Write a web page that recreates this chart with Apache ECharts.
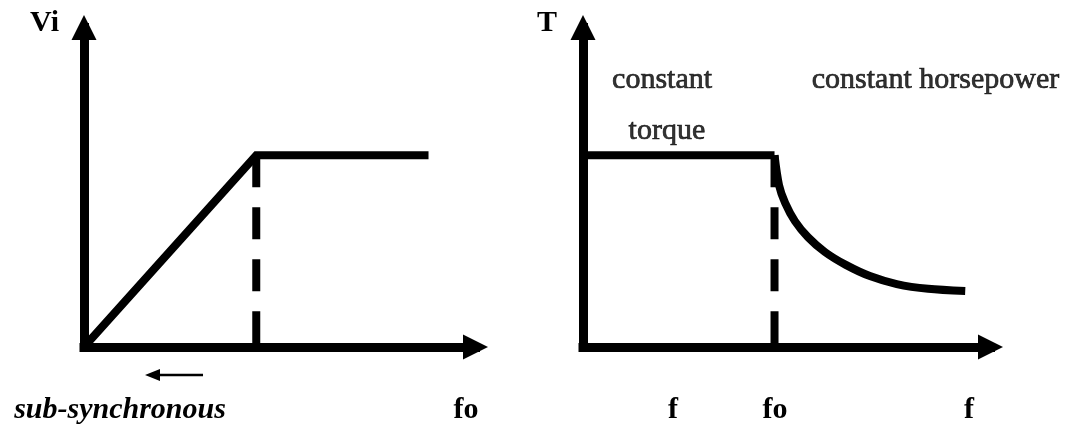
<!DOCTYPE html>
<html><head><meta charset="utf-8">
<script src="https://cdn.jsdelivr.net/npm/echarts@6/dist/echarts.min.js"></script>
<style>html,body{margin:0;padding:0;background:#fff}#c{width:1083px;height:426px}</style>
</head><body><div id="c"></div>
<script>
// ---- Left panel: Vi versus fo ----
const leftFreq = [0, 44, 88];
const leftVolt = [0, 60, 60];
const leftKneeFreq = 44;
const leftKneeVolt = [60, 0];
const leftTickValues = [9.2, 97.6];
const leftTickLabels = ['sub-synchronous', 'fo'];
const leftTickStyles = ['bi', 'b'];
const subSyncArrowFreq = [30.4, 17.5];
const subSyncArrowVolt = [-8.8, -8.8];

// ---- Right panel: T versus f ----
const rightFlatFreq = [0, 47];
const rightFlatTorque = [60, 60];
const rightCurveFreq = [47, 48.1, 49.6, 52.0, 55.2, 59.4, 64.5, 70.4, 77.0, 84.7, 93.8];
const rightCurveTorque = [60, 50.7, 45.1, 39.4, 34.4, 29.7, 25.7, 22.2, 19.7, 18.2, 17.5];
const rightKneeFreq = 47;
const rightKneeTorque = [60, 0];
const rightTickValues = [22.1, 47.1, 94.7];
const rightTickLabels = ['f', 'fo', 'f'];
const rightTickStyles = ['b', 'b', 'b'];
const regionTexts = ['constant', 'torque', 'constant horsepower'];
const regionFreq = [19.4, 20.6, 86.5];
const regionTorque = [83.6, 67.6, 83.6];

const FONT = "'Liberation Serif', 'Times New Roman', serif";
const BLACK = '#000';

function zip(a, b) { return a.map((v, i) => [v, b[i]]); }
function tickFormatter(values, labels, styles) {
  return function (v) {
    let best = 0;
    for (let i = 1; i < values.length; i++) {
      if (Math.abs(values[i] - v) < Math.abs(values[best] - v)) best = i;
    }
    return '{' + styles[best] + '|' + labels[best] + '}';
  };
}
const rich = {
  b: { fontFamily: FONT, fontSize: 30, fontWeight: 'bold', color: BLACK },
  bi: { fontFamily: FONT, fontSize: 30, fontWeight: 'bold', fontStyle: 'italic', color: BLACK }
};
const axisLineStyle = { color: BLACK, width: 9, cap: 'square' };

function xAxisCfg(gridIndex, ticks, labels, styles) {
  return {
    gridIndex, type: 'value', min: 0, max: 100,
    splitLine: { show: false }, axisTick: { show: false },
    axisLine: { show: true, onZero: false, symbol: ['none', 'triangle'], symbolSize: [25, 25], lineStyle: axisLineStyle },
    axisLabel: {
      show: true, customValues: ticks, margin: 48,
      formatter: tickFormatter(ticks, labels, styles), rich,
      fontFamily: FONT, fontSize: 30, color: BLACK
    }
  };
}
function yAxisCfg(gridIndex, name, padRight) {
  return {
    gridIndex, type: 'value', min: 0, max: 100,
    name, nameLocation: 'end', nameGap: 4.6,
    nameTextStyle: { fontFamily: FONT, fontSize: 30, fontWeight: 'bold', color: BLACK,
      align: 'right', verticalAlign: 'middle', padding: [0, padRight, 0, 0] },
    splitLine: { show: false }, axisTick: { show: false }, axisLabel: { show: false },
    axisLine: { show: true, symbol: ['none', 'triangle'], symbolSize: [25, 25], lineStyle: axisLineStyle }
  };
}
const solid = { color: BLACK, width: 8, join: 'miter', cap: 'butt' };
const dashed = { color: BLACK, width: 8, type: [32, 20], cap: 'butt' };

const option = {
  backgroundColor: '#fff',
  animation: false,
  grid: [
    { left: 84, right: 607.5, top: 27.5, bottom: 79 },
    { left: 583, right: 92.5, top: 27.5, bottom: 79 }
  ],
  xAxis: [
    xAxisCfg(0, leftTickValues, leftTickLabels, leftTickStyles),
    xAxisCfg(1, rightTickValues, rightTickLabels, rightTickStyles)
  ],
  yAxis: [yAxisCfg(0, 'Vi', 25), yAxisCfg(1, 'T', 26)],
  series: [
    { type: 'line', xAxisIndex: 0, yAxisIndex: 0, symbol: 'none', lineStyle: solid,
      data: zip(leftFreq, leftVolt) },
    { type: 'line', xAxisIndex: 0, yAxisIndex: 0, symbol: 'none', lineStyle: dashed,
      data: leftKneeVolt.map(v => [leftKneeFreq, v]) },
    { type: 'line', xAxisIndex: 0, yAxisIndex: 0, clip: false,
      lineStyle: { color: BLACK, width: 2.5 }, itemStyle: { color: BLACK },
      data: [
        { value: [subSyncArrowFreq[0], subSyncArrowVolt[0]], symbol: 'none' },
        { value: [subSyncArrowFreq[1], subSyncArrowVolt[1]], symbol: 'triangle', symbolSize: [12, 15], symbolRotate: 90 }
      ] },
    { type: 'line', xAxisIndex: 1, yAxisIndex: 1, symbol: 'none', lineStyle: solid,
      data: zip(rightFlatFreq, rightFlatTorque) },
    { type: 'line', xAxisIndex: 1, yAxisIndex: 1, symbol: 'none', lineStyle: solid,
      smooth: 0.3,
      data: zip(rightCurveFreq, rightCurveTorque) },
    { type: 'line', xAxisIndex: 1, yAxisIndex: 1, symbol: 'none', lineStyle: dashed,
      data: rightKneeTorque.map(v => [rightKneeFreq, v]) },
    { type: 'scatter', xAxisIndex: 1, yAxisIndex: 1, symbolSize: 0,
      itemStyle: { color: 'rgba(0,0,0,0)' },
      label: { show: true, position: 'inside', align: 'center', verticalAlign: 'middle',
        fontFamily: FONT, fontSize: 30, color: BLACK, textBorderWidth: 0.7, textBorderColor: BLACK,
        formatter: p => regionTexts[p.dataIndex] },
      data: regionFreq.map((f, i) => [f, regionTorque[i]]) }
  ]
};
const chart = echarts.init(document.getElementById('c'), null, { renderer: 'canvas' });
chart.setOption(option);
</script></body></html>
